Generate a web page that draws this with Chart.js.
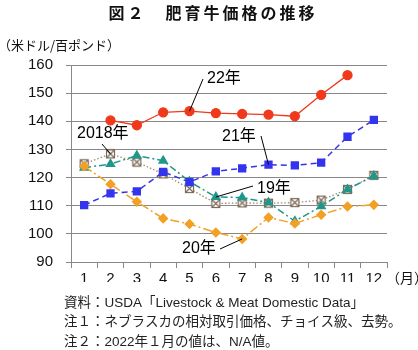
<!DOCTYPE html>
<html>
<head>
<meta charset="utf-8">
<script src="https://cdn.jsdelivr.net/npm/chart.js@4/dist/chart.umd.min.js"></script>
<style>
  html, body { margin: 0; padding: 0; background: #fff; }
  #wrap { width: 418px; height: 350px; position: relative; }
</style>
</head>
<body>
<div id="wrap"><canvas id="c"></canvas></div>
<script>
const months = ['1', '2', '3', '4', '5', '6', '7', '8', '9', '10', '11', '12'];
const y2022 = [null, 140.3, 138.6, 143.2, 143.6, 142.9, 142.6, 142.4, 141.8, 149.4, 156.4, null];
const y2021 = [110.2, 114.4, 115.1, 122.0, 118.4, 122.2, 123.3, 124.6, 124.3, 125.3, 134.5, 140.5];
const y2020 = [124.0, 117.6, 111.4, 105.5, 103.5, 100.5, 98.2, 105.8, 103.7, 106.8, 109.7, 110.3];
const y2019 = [123.5, 124.8, 127.8, 126.0, 118.6, 113.1, 112.9, 111.1, 104.5, 109.8, 115.8, 120.6];
const y2018 = [124.9, 128.4, 125.5, 121.3, 116.1, 110.8, 111.0, 110.9, 111.1, 112.0, 115.8, 120.8];
const yTicks = [90, 100, 110, 120, 130, 140, 150, 160];

const JP = '"Liberation Sans", Arial, "Noto Sans CJK JP", sans-serif';

// square with an X for 2018
function crossBox() {
  const cv = document.createElement('canvas');
  cv.width = 11; cv.height = 11;
  const g = cv.getContext('2d');
  g.fillStyle = '#fff';
  g.fillRect(1, 1, 9, 9);
  g.strokeStyle = '#7d6a58';
  g.lineWidth = 1.2;
  g.strokeRect(1.5, 1.5, 8, 8);
  g.beginPath();
  g.moveTo(2, 2); g.lineTo(9, 9);
  g.moveTo(9, 2); g.lineTo(2, 9);
  g.stroke();
  return cv;
}

// labels with leader lines: [text, textX, textY, lineStartX, lineStartY, series, monthIndex]
const notes = [
  ['22年', 207, 79, 203, 79, y2022, 4],
  ['21年', 222, 137, 261, 136, y2021, 7],
  ['2018年', 77, 134, 102, 144, y2018, 1],
  ['19年', 257, 189, 253, 186, y2019, 5],
  ['20年', 182, 249, 220, 249, y2020, 6]
];

const textPlugin = {
  id: 'texts',
  afterDatasetsDraw(chart) {
    const ctx = chart.ctx;
    const x = chart.scales.x, y = chart.scales.y;
    ctx.save();
    ctx.strokeStyle = '#000';
    ctx.lineWidth = 1;
    ctx.fillStyle = '#000';
    ctx.font = '16px ' + JP;
    ctx.textBaseline = 'middle';
    ctx.textAlign = 'left';
    notes.forEach(n => {
      ctx.beginPath();
      ctx.moveTo(n[3], n[4]);
      ctx.lineTo(x.getPixelForValue(n[6]), y.getPixelForValue(n[5][n[6]]));
      ctx.stroke();
      ctx.fillText(n[0], n[1], n[2]);
    });
    ctx.restore();
  },
  afterDraw(chart) {
    const ctx = chart.ctx;
    ctx.save();
    ctx.fillStyle = '#111';
    ctx.textBaseline = 'middle';
    ctx.textAlign = 'center';
    ctx.font = 'bold 16px "Noto Sans CJK JP", sans-serif';
    ctx.letterSpacing = '3px';
    ctx.fillText('図２　肥育牛価格の推移', 213, 13);
    ctx.letterSpacing = '0px';
    ctx.textAlign = 'left';
    ctx.font = '13px "Noto Sans CJK JP", sans-serif';
    ctx.fillText('（米ドル/百ポンド）', -2, 45);
    ctx.font = '14px "Noto Sans CJK JP", sans-serif';
    ctx.fillText('（月）', 386, 278);
    ctx.fillStyle = '#222';
    ctx.font = '13.5px ' + JP;
    ctx.fillText('資料：USDA「Livestock & Meat Domestic Data」', 64, 303);
    ctx.fillText('注１：ネブラスカの相対取引価格、チョイス級、去勢。', 64, 322);
    ctx.fillText('注２：2022年１月の値は、N/A値。', 64, 342);
    ctx.restore();
  }
};

new Chart(document.getElementById('c'), {
  type: 'line',
  data: {
    labels: months,
    datasets: [
      {
        label: '22年', data: y2022,
        borderColor: '#f0391c', backgroundColor: '#f0391c',
        borderWidth: 1.3, pointStyle: 'circle', pointRadius: 4.5
      },
      {
        label: '21年', data: y2021,
        borderColor: '#3434ee', backgroundColor: '#3434ee',
        borderWidth: 1.5, borderDash: [6, 4], pointStyle: 'rect', pointRadius: 4.8
      },
      {
        label: '20年', data: y2020,
        borderColor: '#f3a027', backgroundColor: '#f3a027',
        borderWidth: 1.5, borderDash: [9, 3, 2, 3], pointStyle: 'rectRot', pointRadius: 4.2
      },
      {
        label: '19年', data: y2019,
        borderColor: '#1f978b', backgroundColor: '#1f978b',
        borderWidth: 1.5, borderDash: [7, 3, 2, 3], pointStyle: 'triangle', pointRadius: 4.5
      },
      {
        label: '2018年', data: y2018,
        borderColor: '#a08a72', backgroundColor: '#fff',
        borderWidth: 1.3, borderDash: [1.5, 2], pointStyle: crossBox()
      }
    ]
  },
  options: {
    responsive: true,
    maintainAspectRatio: false,
    animation: false,
    layout: { padding: { top: 65, right: 31, bottom: 68, left: 0 } },
    plugins: { legend: { display: false }, tooltip: { enabled: false } },
    elements: { line: { tension: 0 } },
    scales: {
      x: {
        offset: true,
        grid: { offset: true, drawOnChartArea: false, color: '#888', tickLength: 6 },
        border: { color: '#888' },
        ticks: { color: '#111', font: { size: 15, family: 'Liberation Sans' }, padding: 2, maxRotation: 0 },
        afterFit(s) { s.height = 20; }
      },
      y: {
        min: 90, max: 160,
        afterBuildTicks(s) { s.ticks = yTicks.map(v => ({ value: v })); },
        grid: { color: '#888', tickLength: 5 },
        border: { color: '#888' },
        ticks: { color: '#111', font: { size: 15, family: 'Liberation Sans' }, padding: 13 },
        afterFit(s) { s.width = 71; }
      }
    }
  },
  plugins: [textPlugin]
});
</script>
</body>
</html>
